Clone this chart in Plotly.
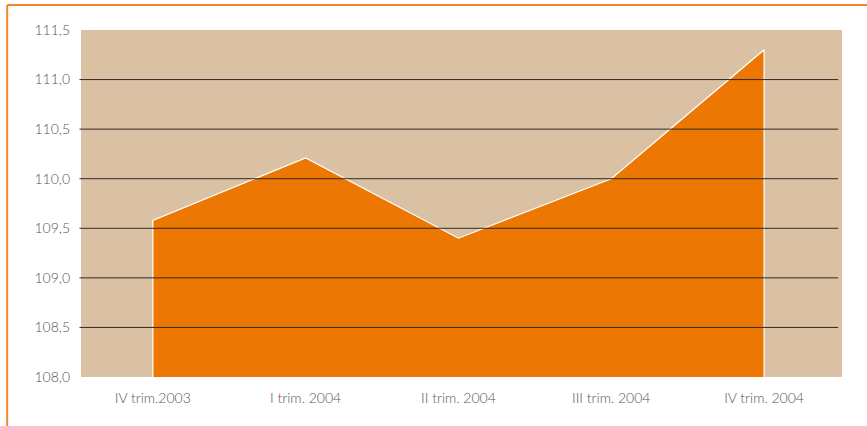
import plotly.graph_objects as go

# Quarterly index values
quarters = ["IV trim.2003", "I trim. 2004", "II trim. 2004", "III trim. 2004", "IV trim. 2004"]
index_values = [109.58, 110.21, 109.40, 110.00, 111.30]

y_min, y_max = 108.0, 111.5
y_ticks = [108.0, 108.5, 109.0, 109.5, 110.0, 110.5, 111.0, 111.5]
grid_levels = [108.5, 109.0, 109.5, 110.0, 110.5, 111.0]

positions = list(range(len(quarters)))

# Closed polygon: down to the axis floor at both ends
poly_x = [positions[0]] + positions + [positions[-1]]
poly_y = [y_min] + index_values + [y_min]

fig = go.Figure()
fig.add_trace(go.Scatter(
    x=poly_x, y=poly_y,
    mode="lines",
    fill="toself",
    fillcolor="#EC7703",
    line=dict(color="#FFFFFF", width=1.2),
    hoverinfo="skip",
    showlegend=False,
))

shapes = []
# Horizontal rules drawn over the filled area
for lvl in grid_levels:
    shapes.append(dict(type="line", xref="paper", yref="y",
                       x0=-0.002, x1=0.995, y0=lvl, y1=lvl,
                       line=dict(color="#2E2A26", width=1), layer="above"))
# Orange frame along top and left
shapes.append(dict(type="line", xref="paper", yref="paper",
                   x0=-0.097, x1=1.04, y0=1.072, y1=1.072,
                   line=dict(color="#F0882A", width=2), layer="above"))
shapes.append(dict(type="line", xref="paper", yref="paper",
                   x0=-0.097, x1=-0.097, y0=1.072, y1=-0.2,
                   line=dict(color="#F0882A", width=2), layer="above"))

label_font = dict(family="Lato, 'Open Sans', sans-serif", size=14, color="#555555", weight=300)

fig.update_layout(
    width=867, height=426,
    margin=dict(l=81, r=25, t=30, b=49),
    paper_bgcolor="#FFFFFF",
    plot_bgcolor="#DAC1A4",
    separators=", ",
    font=label_font,
    shapes=shapes,
    xaxis=dict(
        range=[-0.47, 4.51],
        tickvals=positions, ticktext=quarters,
        showgrid=False, zeroline=False, showline=False,
        ticks="", tickfont=label_font,
        ticklabelstandoff=11,
        fixedrange=True,
    ),
    yaxis=dict(
        range=[y_min, y_max],
        tickvals=y_ticks, tickformat=".1f",
        showgrid=False, zeroline=False, showline=False,
        ticks="", tickfont=label_font,
        ticklabelstandoff=10,
        fixedrange=True,
    ),
)

fig.write_html("out.html")
